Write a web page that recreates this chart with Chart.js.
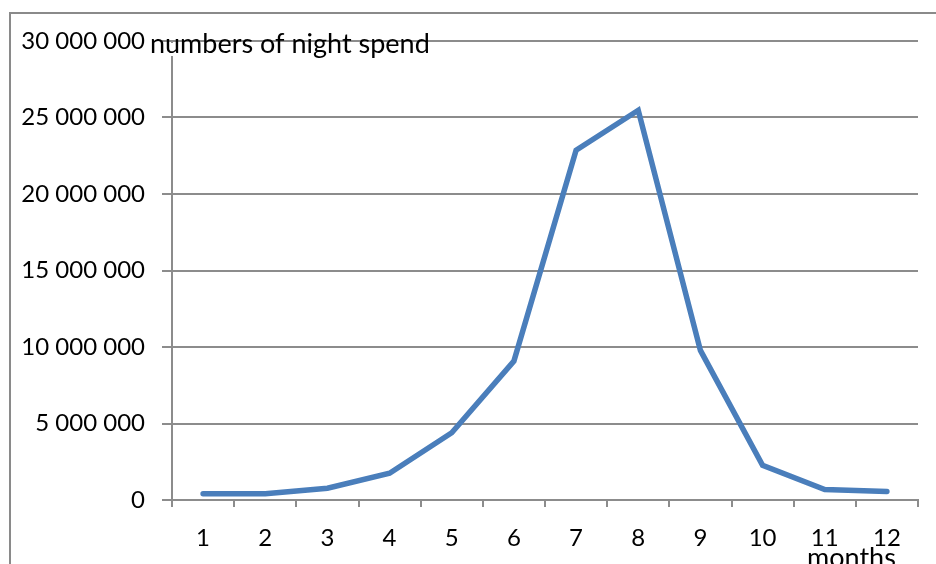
<!DOCTYPE html>
<html>
<head>
<meta charset="utf-8">
<script src="https://cdn.jsdelivr.net/npm/chart.js@4"></script>
<style>
  html, body { margin: 0; padding: 0; background: #fff; }
  #wrap { width: 936px; height: 564px; }
</style>
</head>
<body>
<div id="wrap"><canvas id="nightsChart" width="936" height="564"></canvas></div>
<script>
// Nights spent per month
var months = ['1', '2', '3', '4', '5', '6', '7', '8', '9', '10', '11', '12'];
var nights = [410000, 410000, 770000, 1750000, 4400000, 9080000, 22860000, 25470000, 9780000, 2260000, 690000, 560000];
var yTicks = [0, 5000000, 10000000, 15000000, 20000000, 25000000, 30000000];

var yTitle = 'numbers of night spend';
var xTitle = 'months';

var gridColor = '#8c8c8c';
var fontFamily = 'Lato, "Open Sans", sans-serif';

// space as thousands separator
function formatNumber(v) {
    return v.toString().replace(/\B(?=(\d{3})+(?!\d))/g, ' ');
}

// outer frame plus the two axis titles
var decorations = {
    id: 'decorations',
    beforeDraw: function(chart) {
        var ctx = chart.ctx;
        ctx.save();
        ctx.fillStyle = '#fff';
        ctx.fillRect(0, 0, chart.width, chart.height);
        ctx.strokeStyle = '#8a8a8a';
        ctx.lineWidth = 2;
        ctx.strokeRect(10, 13, 2000, 2000);
        ctx.restore();
    },
    afterDraw: function(chart) {
        var ctx = chart.ctx;
        var left = chart.chartArea.left;
        ctx.save();
        // title box hides the top of the value axis
        ctx.fillStyle = '#fff';
        ctx.fillRect(left - 3, 43, 6, 13);
        ctx.fillStyle = '#000';
        ctx.font = '27px ' + fontFamily;
        ctx.textBaseline = 'alphabetic';
        ctx.textAlign = 'left';
        ctx.fillText(yTitle, 150, 53);
        ctx.fillText(xTitle, 807, 567);
        ctx.restore();
    }
};

var ctx = document.getElementById('nightsChart').getContext('2d');
var chart = new Chart(ctx, {
    type: 'line',
    data: {
        labels: months,
        datasets: [{
            data: nights,
            borderColor: '#4a7ebb',
            borderWidth: 5.5,
            borderCapStyle: 'round',
            borderJoinStyle: 'miter',
            pointRadius: 0,
            tension: 0,
            fill: false
        }]
    },
    options: {
        responsive: false,
        animation: false,
        layout: { padding: { left: 0, top: 41, right: 18, bottom: 0 } },
        plugins: {
            legend: { display: false },
            tooltip: { enabled: false }
        },
        scales: {
            x: {
                offset: true,
                grid: {
                    offset: true,
                    drawOnChartArea: false,
                    drawTicks: true,
                    tickLength: 7,
                    color: gridColor,
                    lineWidth: 2
                },
                border: { color: gridColor, width: 2 },
                ticks: {
                    color: '#000',
                    padding: 17,
                    maxRotation: 0,
                    font: { family: fontFamily, size: 24 }
                },
                afterFit: function(scale) { scale.height = 64; }
            },
            y: {
                min: 0,
                max: 30000000,
                afterBuildTicks: function(scale) {
                    scale.ticks = yTicks.map(function(v) { return { value: v }; });
                },
                grid: {
                    color: gridColor,
                    lineWidth: 2,
                    drawTicks: true,
                    tickLength: 10
                },
                border: { color: gridColor, width: 2 },
                ticks: {
                    color: '#000',
                    padding: 17,
                    font: { family: fontFamily, size: 24 },
                    callback: function(v) { return formatNumber(v); }
                },
                afterFit: function(scale) { scale.width = 172; }
            }
        }
    },
    plugins: [decorations]
});
</script>
</body>
</html>
